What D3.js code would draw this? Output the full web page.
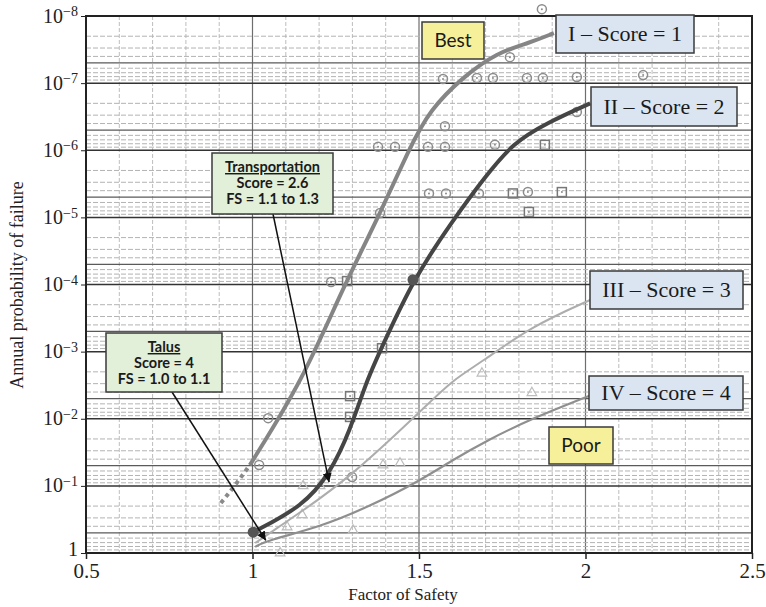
<!DOCTYPE html>
<html>
<head>
<meta charset="utf-8">
<script src="https://cdn.jsdelivr.net/npm/d3@7"></script>
<style>
body { margin: 0; background: #fff; }
</style>
</head>
<body>
<div id="chart"></div>
<script>
// curves: [factor of safety, annual probability of failure]
var curveIDashed = [[0.905, 0.18], [0.95, 0.095], [0.992, 0.049]];
var curveI = [[0.992, 4.9e-2], [1.152, 2.6e-3], [1.272, 1.1e-4], [1.374, 1.1e-5], [1.473, 8.9e-7],
              [1.533, 2.5e-7], [1.632, 8.1e-8], [1.734, 3.5e-8], [1.833, 2.5e-8], [1.905, 1.8e-8]];
var curveII = [[1.002, 0.49], [1.152, 0.20], [1.233, 0.065], [1.293, 0.015], [1.344, 2.6e-3], [1.389, 8.5e-4],
               [1.482, 8.5e-5], [1.602, 1.1e-5], [1.698, 2.5e-6], [1.782, 7.8e-7], [1.884, 3.9e-7], [2.014, 2.0e-7]];
var curveIII = [[1.008, 0.71], [1.053, 0.50], [1.143, 0.25], [1.293, 0.074], [1.494, 8.7e-3],
                [1.602, 2.6e-3], [1.683, 1.5e-3], [1.833, 4.3e-4], [2.014, 1.7e-4]];
var curveIV = [[1.008, 0.81], [1.044, 0.65], [1.203, 0.41], [1.353, 0.20], [1.497, 0.087],
               [1.602, 0.041], [1.704, 0.021], [1.842, 9.8e-3], [2.014, 4.5e-3]];

// plotted observations
var circlePoints = [[1.773, 4.1e-8], [1.869, 7.9e-9], [1.572, 8.7e-8], [1.674, 8.4e-8], [1.722, 8.4e-8], [1.824, 8.4e-8],
                    [1.872, 8.4e-8], [1.974, 8.1e-8], [2.173, 7.6e-8], [1.578, 4.4e-7], [1.377, 8.9e-7], [1.428, 8.9e-7],
                    [1.527, 8.9e-7], [1.578, 8.9e-7], [1.728, 8.3e-7], [1.974, 2.7e-7], [1.530, 4.4e-6], [1.581, 4.4e-6],
                    [1.680, 4.4e-6], [1.827, 4.2e-6], [1.383, 8.6e-6], [1.236, 9.2e-5], [1.047, 9.8e-3], [1.020, 4.9e-2],
                    [1.299, 0.074]];
var squarePoints = [[1.782, 4.4e-6], [1.929, 4.2e-6], [1.878, 8.3e-7], [1.830, 8.3e-6], [1.284, 8.9e-5],
                    [1.389, 8.9e-4], [1.293, 4.6e-3], [1.293, 9.4e-3]];
var filledPoints = [[1.482, 8.5e-5], [1.002, 0.49]];
var trianglePoints = [[1.689, 2.1e-3], [1.839, 4.1e-3], [1.392, 4.9e-2], [1.443, 4.6e-2], [1.152, 0.10], [1.203, 0.10],
                      [1.149, 0.27], [1.104, 0.41], [1.302, 0.46], [1.083, 1.0]];

var xTicks = [0.5, 1, 1.5, 2, 2.5];
var yExponents = [0, -1, -2, -3, -4, -5, -6, -7, -8];

var curveLabels = ["I \u2013 Score = 1", "II \u2013 Score = 2", "III \u2013 Score = 3", "IV \u2013 Score = 4"];
var transportLines = ["Transportation", "Score = 2.6", "FS = 1.1 to 1.3"];
var talusLines = ["Talus", "Score = 4", "FS = 1.0 to 1.1"];
var transportTip = [1.23, 0.088];
var talusTip = [1.04, 0.65];

var width = 766, height = 607;
var plotLeft = 86, plotRight = 752, plotTop = 16, plotBottom = 553;

var svg = d3.select("#chart").append("svg")
    .attr("width", width)
    .attr("height", height);

var x = d3.scaleLinear().domain([0.5, 2.5]).range([plotLeft, plotRight]);
var y = d3.scaleLog().domain([1, 1e-8]).range([plotBottom, plotTop]);

// grid paper
var minorX = d3.range(6, 25).map(d => d / 10).filter(d => Math.round(d * 10) % 5 != 0);
svg.append("g").selectAll("line")
    .data(minorX)
    .enter().append("line")
    .attr("x1", d => x(d)).attr("x2", d => x(d))
    .attr("y1", plotTop).attr("y2", plotBottom)
    .attr("stroke", "#bdbdbd")
    .attr("stroke-dasharray", "4,2")
    .attr("stroke-width", 1);

svg.append("g").selectAll("line")
    .data([1, 1.5, 2])
    .enter().append("line")
    .attr("x1", d => x(d)).attr("x2", d => x(d))
    .attr("y1", plotTop).attr("y2", plotBottom)
    .attr("stroke", "#6e6e6e")
    .attr("stroke-width", 1.2);

var minorY = [];
yExponents.slice(1).forEach(function(e) {
    for (var m = 2; m <= 9; m++) minorY.push([m, m * Math.pow(10, e)]);
});
svg.append("g").selectAll("line")
    .data(minorY)
    .enter().append("line")
    .attr("x1", plotLeft).attr("x2", plotRight)
    .attr("y1", d => y(d[1])).attr("y2", d => y(d[1]))
    .attr("stroke", d => d[0] == 5 ? "#5a5a5a" : "#b3b3b3")
    .attr("stroke-dasharray", d => d[0] == 5 ? null : "5,2")
    .attr("stroke-width", d => d[0] == 5 ? 1.2 : 1);

svg.append("g").selectAll("line")
    .data(yExponents.map(e => Math.pow(10, e)))
    .enter().append("line")
    .attr("x1", plotLeft).attr("x2", plotRight)
    .attr("y1", d => y(d)).attr("y2", d => y(d))
    .attr("stroke", "#333")
    .attr("stroke-width", 1.5);

svg.append("rect")
    .attr("x", plotLeft).attr("y", plotTop)
    .attr("width", plotRight - plotLeft).attr("height", plotBottom - plotTop)
    .attr("fill", "none")
    .attr("stroke", "#222")
    .attr("stroke-width", 2);

// axes
var yAxis = svg.append("g")
    .attr("transform", "translate(" + plotLeft + ",0)")
    .call(d3.axisLeft(y).tickValues(yExponents.map(e => Math.pow(10, e))).tickSize(5).tickPadding(3));
yAxis.select(".domain").remove();
yAxis.selectAll("line").attr("stroke", "#222");
yAxis.selectAll(".tick text")
    .attr("font-family", "'Liberation Serif', 'Times New Roman', serif")
    .attr("font-size", 20)
    .attr("fill", "#222")
    .attr("dy", "0.3em")
    .each(function(d) {
        var t = d3.select(this).text(null);
        var e = Math.round(Math.log10(d));
        if (e == 0) { t.attr("dy", "0.1em").text("1"); return; }
        t.append("tspan").text("10");
        t.append("tspan").attr("dy", "-0.45em").attr("font-size", 14).text("\u2212" + (-e));
    });

var xAxis = svg.append("g")
    .attr("transform", "translate(0," + plotBottom + ")")
    .call(d3.axisBottom(x).tickValues(xTicks).tickSize(6).tickPadding(4).tickFormat(d => d));
xAxis.select(".domain").remove();
xAxis.selectAll("line").attr("stroke", "#222").attr("stroke-width", 1.5);
xAxis.selectAll(".tick text")
    .attr("font-family", "'Liberation Serif', 'Times New Roman', serif")
    .attr("font-size", 21)
    .attr("fill", "#222");

svg.append("text")
    .attr("x", (plotLeft + plotRight) / 2 - 16)
    .attr("y", 600)
    .attr("text-anchor", "middle")
    .attr("font-family", "'Liberation Serif', 'Times New Roman', serif")
    .attr("font-size", 17)
    .attr("fill", "#222")
    .text("Factor of Safety");

svg.append("text")
    .attr("transform", "translate(23,285) rotate(-90)")
    .attr("text-anchor", "middle")
    .attr("font-family", "'Liberation Serif', 'Times New Roman', serif")
    .attr("font-size", 18)
    .attr("fill", "#222")
    .text("Annual probability of failure");

// observations
var marks = svg.append("g");
marks.selectAll("circle.open")
    .data(circlePoints)
    .enter().append("circle")
    .attr("class", "open")
    .attr("cx", d => x(d[0])).attr("cy", d => y(d[1]))
    .attr("r", 4.5)
    .attr("fill", "none")
    .attr("stroke", "#8c8c8c")
    .attr("stroke-width", 1.5);
marks.selectAll("circle.dot")
    .data(circlePoints.concat(squarePoints))
    .enter().append("circle")
    .attr("class", "dot")
    .attr("cx", d => x(d[0])).attr("cy", d => y(d[1]))
    .attr("r", 1)
    .attr("fill", "#8c8c8c");
marks.selectAll("rect")
    .data(squarePoints)
    .enter().append("rect")
    .attr("x", d => x(d[0]) - 4.5).attr("y", d => y(d[1]) - 4.5)
    .attr("width", 9).attr("height", 9)
    .attr("fill", "none")
    .attr("stroke", "#777")
    .attr("stroke-width", 1.5);
marks.selectAll("path.tri")
    .data(trianglePoints)
    .enter().append("path")
    .attr("class", "tri")
    .attr("transform", d => "translate(" + x(d[0]) + "," + y(d[1]) + ")")
    .attr("d", d3.symbol().type(d3.symbolTriangle).size(40))
    .attr("fill", "none")
    .attr("stroke", "#bdbdbd")
    .attr("stroke-width", 1.2);

// curves, hand-smoothed through the read points
var line = d3.line()
    .x(d => x(d[0]))
    .y(d => y(d[1]))
    .curve(d3.curveBasis);

svg.append("path").datum(curveIV).attr("d", line)
    .attr("fill", "none").attr("stroke", "#8f8f8f").attr("stroke-width", 2.2);
svg.append("path").datum(curveIII).attr("d", line)
    .attr("fill", "none").attr("stroke", "#adadad").attr("stroke-width", 2);
svg.append("path").datum(curveIDashed).attr("d", line)
    .attr("fill", "none").attr("stroke", "#8a8a8a").attr("stroke-width", 4)
    .attr("stroke-dasharray", "4,4");
svg.append("path").datum(curveI).attr("d", line)
    .attr("fill", "none").attr("stroke", "#858585").attr("stroke-width", 4);
svg.append("path").datum(curveII).attr("d", line)
    .attr("fill", "none").attr("stroke", "#454545").attr("stroke-width", 4);

svg.selectAll("circle.filled")
    .data(filledPoints)
    .enter().append("circle")
    .attr("class", "filled")
    .attr("cx", d => x(d[0])).attr("cy", d => y(d[1]))
    .attr("r", 5.5)
    .attr("fill", "#555");

// arrows
svg.append("defs").append("marker")
    .attr("id", "head")
    .attr("viewBox", "0 0 10 10")
    .attr("refX", 10).attr("refY", 5)
    .attr("markerWidth", 9).attr("markerHeight", 9)
    .attr("markerUnits", "userSpaceOnUse")
    .attr("orient", "auto")
    .append("path")
    .attr("d", "M0,0L10,5L0,10Z")
    .attr("fill", "#111");

svg.append("line")
    .attr("x1", 273).attr("y1", 214)
    .attr("x2", x(transportTip[0])).attr("y2", y(transportTip[1]))
    .attr("stroke", "#111").attr("stroke-width", 1.5)
    .attr("marker-end", "url(#head)");
svg.append("line")
    .attr("x1", 172).attr("y1", 392)
    .attr("x2", x(talusTip[0])).attr("y2", y(talusTip[1]))
    .attr("stroke", "#111").attr("stroke-width", 1.5)
    .attr("marker-end", "url(#head)");

// label boxes
function box(x0, y0, w, h, fill) {
    svg.append("rect")
        .attr("x", x0).attr("y", y0)
        .attr("width", w).attr("height", h)
        .attr("fill", fill)
        .attr("stroke", "#3a3a3a")
        .attr("stroke-width", 1.5);
}

var curveBoxes = [[556, 15, 138, 38], [591, 87, 146, 39], [590, 271, 153, 38], [589, 376, 154, 34]];
curveBoxes.forEach(function(b, i) {
    box(b[0], b[1], b[2], b[3], "#dbe5f1");
    svg.append("text")
        .attr("x", b[0] + b[2] / 2).attr("y", b[1] + b[3] / 2 + 7)
        .attr("text-anchor", "middle")
        .attr("font-family", "'Liberation Serif', 'Times New Roman', serif")
        .attr("font-size", 22)
        .attr("fill", "#1a1a1a")
        .text(curveLabels[i]);
});

[["Best", 422, 22, 62, 37], ["Poor", 549, 427, 64, 37]].forEach(function(b) {
    box(b[1], b[2], b[3], b[4], "#f6f09a");
    svg.append("text")
        .attr("x", b[1] + b[3] / 2).attr("y", b[2] + b[4] / 2 + 6.5)
        .attr("text-anchor", "middle")
        .attr("font-family", "Lato, 'Open Sans', sans-serif")
        .attr("font-size", 19)
        .attr("fill", "#1a1a1a")
        .text(b[0]);
});

[[transportLines, 212, 153, 121, 61], [talusLines, 106, 333, 116, 59]].forEach(function(b) {
    box(b[1], b[2], b[3], b[4], "#e2efd9");
    b[0].forEach(function(s, i) {
        svg.append("text")
            .attr("x", b[1] + b[3] / 2)
            .attr("y", b[2] + 19 + i * 16)
            .attr("text-anchor", "middle")
            .attr("font-family", "Lato, 'Open Sans', sans-serif")
            .attr("font-weight", "bold")
            .attr("font-size", 14.5)
            .attr("fill", "#1a1a1a")
            .attr("text-decoration", i == 0 ? "underline" : null)
            .text(s);
    });
});
</script>
</body>
</html>
